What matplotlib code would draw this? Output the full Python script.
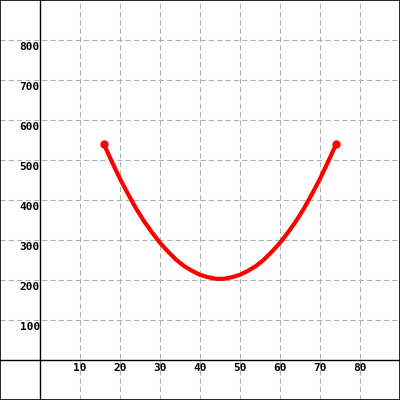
import matplotlib
matplotlib.use("Agg")
import matplotlib.pyplot as plt
import matplotlib.transforms as mtransforms

# curve
xs = [16, 18, 20, 22, 24, 26, 28, 30, 32, 34, 36, 38, 40, 42, 44,
      46, 48, 50, 52, 54, 56, 58, 60, 62, 64, 66, 68, 70, 72, 74]
ys = [539, 495, 453, 415, 379, 347, 319, 293, 271, 251, 235, 223, 213, 207, 203,
      203, 207, 213, 223, 235, 251, 271, 293, 319, 347, 379, 415, 453, 495, 539]

x_ticks = [10, 20, 30, 40, 50, 60, 70, 80]
y_ticks = [100, 200, 300, 400, 500, 600, 700, 800]

fig = plt.figure(figsize=(4, 4), dpi=100)
ax = fig.add_axes([0, 0, 1, 1])
ax.set_xlim(-10, 90)
ax.set_ylim(-100, 900)

ax.set_xticks(x_ticks)
ax.set_yticks(y_ticks)
ax.tick_params(length=0, labelbottom=False, labelleft=False)
ax.grid(True, color='#b0b0b0', linewidth=0.75, linestyle=(0, (5, 3)))

for s in ax.spines.values():
    s.set_color('black')
    s.set_linewidth(1.2)

ax.axhline(0, color='black', linewidth=1)
ax.axvline(0, color='black', linewidth=1)

# tick labels drawn next to the axis lines
lab_font = dict(family='DejaVu Sans Mono', weight='bold', size=8)
off_y = mtransforms.offset_copy(ax.transData, fig=fig, x=0, y=-2, units='dots')
for v in y_ticks:
    ax.text(0, v, str(v), ha='right', va='top', transform=off_y, **lab_font)
off_x = mtransforms.offset_copy(ax.transData, fig=fig, x=0, y=-3, units='dots')
for v in x_ticks:
    ax.text(v, 0, str(v), ha='center', va='top', transform=off_x, **lab_font)

ax.plot(xs, ys, color='red', linewidth=3, marker='o', markersize=5,
        markevery=[0, len(xs) - 1], solid_capstyle='round')

fig.savefig('out.png', dpi=100)
